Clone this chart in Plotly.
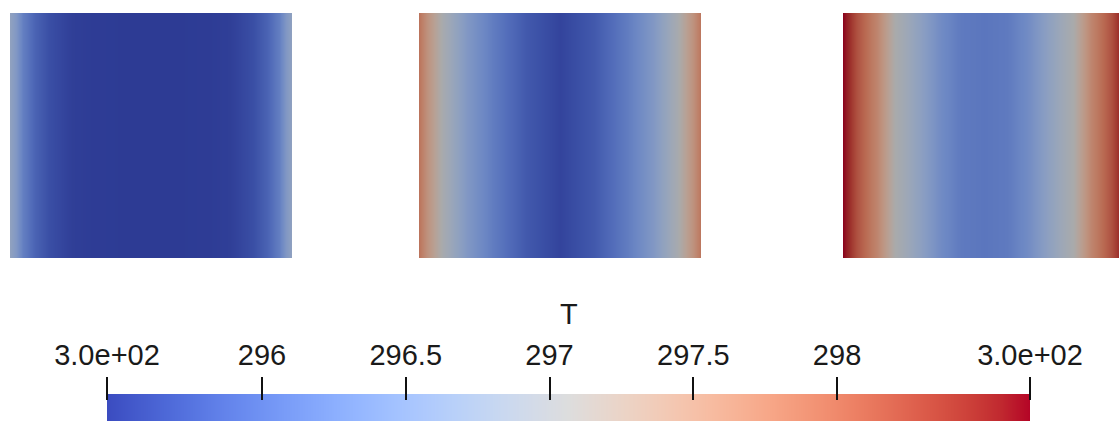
import plotly.graph_objects as go

# ---- data ----
T_MIN = 295.461
T_MAX = 298.671
tick_vals = [T_MIN, 296.0, 296.5, 297.0, 297.5, 298.0, T_MAX]
tick_text = ["3.0e+02", "296", "296.5", "297", "297.5", "298", "3.0e+02"]

pos1 = [0.0, 0.02, 0.045, 0.09, 0.14, 0.22, 0.3, 0.5, 0.7, 0.78, 0.86, 0.91, 0.955, 0.98, 1.0]
T1 = [296.7, 296.5, 296.15, 295.85, 295.65, 295.5, 295.47, 295.46, 295.47, 295.5, 295.65, 295.85, 296.15, 296.5, 296.7]

pos2 = [0.0, 0.03, 0.085, 0.17, 0.27, 0.38, 0.5, 0.62, 0.73, 0.83, 0.915, 0.97, 1.0]
T2 = [297.9, 297.55, 297.0, 296.5, 296.1, 295.75, 295.55, 295.75, 296.1, 296.5, 297.0, 297.55, 297.9]

pos3 = [0.0, 0.02, 0.05, 0.12, 0.185, 0.27, 0.35, 0.42, 0.5, 0.58, 0.65, 0.73, 0.815, 0.88, 0.95, 0.98, 1.0]
T3 = [298.67, 298.5, 298.2, 297.7, 297.05, 296.68, 296.3, 296.1, 296.05, 296.1, 296.3, 296.68, 297.05, 297.7, 298.2, 298.5, 298.67]

# ParaView "Cool to Warm" colour map
ctw = [
    (59, 76, 192), (68, 90, 204), (77, 104, 215), (87, 117, 225), (98, 130, 234),
    (108, 142, 241), (119, 154, 247), (130, 165, 251), (141, 176, 254), (152, 185, 255),
    (163, 194, 255), (174, 201, 253), (184, 208, 249), (194, 213, 244), (204, 217, 238),
    (213, 219, 230), (221, 221, 221), (229, 216, 209), (236, 211, 197), (241, 204, 185),
    (245, 196, 173), (247, 187, 160), (247, 177, 148), (247, 166, 135), (244, 154, 123),
    (241, 141, 111), (236, 127, 99), (229, 112, 88), (222, 96, 77), (213, 80, 66),
    (203, 62, 56), (192, 40, 47), (180, 4, 38),
]


def scale(f):
    n = len(ctw) - 1
    return [[i / n, "rgb(%d,%d,%d)" % tuple(min(255, round(c * f)) for c in rgb)]
            for i, rgb in enumerate(ctw)]


cs_bar = scale(1.0)
cs_lit = scale(0.77)

W, H = 1119, 421

fig = go.Figure()

panels = [
    (pos1, T1, (10, 292), [0, 1]),
    (pos2, T2, (419, 701), [0, 1]),
    (pos3, T3, (843, 1119), [0, 276 / 282]),
]
for i, (p, t, (x0, x1), rng) in enumerate(panels, start=1):
    ax = "" if i == 1 else str(i)
    fig.add_trace(go.Heatmap(
        x=p, y=[0, 1], z=[t, t], zmin=T_MIN, zmax=T_MAX,
        colorscale=cs_lit, zsmooth="best", showscale=False, hoverinfo="skip",
        xaxis="x" + ax, yaxis="y" + ax,
    ))
    fig.layout["xaxis" + ax] = dict(domain=[x0 / W, x1 / W], range=rng, visible=False,
                                    fixedrange=True, automargin=False)
    fig.layout["yaxis" + ax] = dict(domain=[(H - 258) / H, (H - 13) / H], range=[0, 1],
                                    visible=False, fixedrange=True, automargin=False)

# colour bar gradient
fig.add_trace(go.Heatmap(
    x=[T_MIN, T_MAX], y=[0, 1], z=[[T_MIN, T_MAX], [T_MIN, T_MAX]],
    zmin=T_MIN, zmax=T_MAX, colorscale=cs_bar, zsmooth="best",
    showscale=False, hoverinfo="skip", xaxis="x4", yaxis="y4",
))
# invisible trace so the colour-bar tick axis gets its own subplot (drawn on top)
fig.add_trace(go.Scatter(
    x=tick_vals, y=[0.5] * len(tick_vals), mode="markers",
    marker=dict(opacity=0), hoverinfo="skip", xaxis="x5", yaxis="y5",
))

font = dict(family="Liberation Sans", size=29, color="#1a1a1a")
fig.update_layout(
    xaxis4=dict(domain=[107 / W, 1030 / W], range=[T_MIN, T_MAX], anchor="y4",
                visible=False, fixedrange=True, automargin=False),
    yaxis4=dict(domain=[0, (H - 394) / H], range=[0, 1], anchor="x4",
                visible=False, fixedrange=True, automargin=False),
    xaxis5=dict(domain=[107 / W, 1030 / W], range=[T_MIN, T_MAX], side="top",
                anchor="y5", tickmode="array", tickvals=tick_vals, ticktext=tick_text,
                ticks="outside", ticklen=23, tickwidth=1.5, tickcolor="#111",
                showline=False, showgrid=False, zeroline=False, tickfont=font,
                fixedrange=True, automargin=False),
    yaxis5=dict(domain=[0, (H - 401) / H], range=[0, 1], anchor="x5",
                visible=False, fixedrange=True, automargin=False),
    annotations=[dict(text="T", x=569 / W, y=(H - 314) / H, xref="paper", yref="paper",
                      xanchor="center", yanchor="middle", showarrow=False, font=font)],
    width=W, height=H, margin=dict(l=0, r=0, t=0, b=0, pad=0, autoexpand=False),
    paper_bgcolor="white", plot_bgcolor="rgba(0,0,0,0)", showlegend=False,
)

fig.write_html("out.html", config={"displayModeBar": False},
               post_script="document.body.style.margin='0';")
